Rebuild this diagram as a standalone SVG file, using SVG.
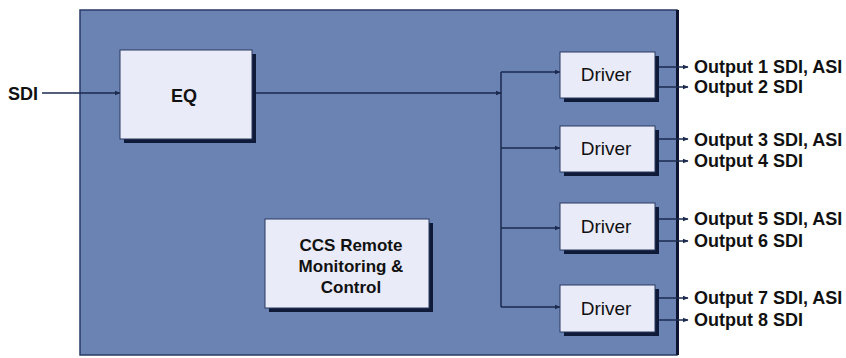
<svg xmlns="http://www.w3.org/2000/svg" width="846" height="358" viewBox="0 0 846 358">
<style>
.box{fill:#e9ebf8;stroke:#2a3a60;stroke-width:1}
.shadow{fill:#0f1a38}
.ln{fill:none;stroke:#1b2a4e;stroke-width:1.5}
.t{font-family:"Liberation Sans",Arial,sans-serif;fill:#111}
.b{font-weight:bold}
</style>
<defs>
<marker id="ah" viewBox="0 0 10 10" refX="9" refY="5" markerWidth="6" markerHeight="6" orient="auto" markerUnits="userSpaceOnUse">
<path d="M0,1 L10,5 L0,9 z" fill="#1b2a4e"/>
</marker>
</defs>
<rect width="846" height="358" fill="#ffffff"/>
<g id="panel">
<rect x="80" y="10" width="597" height="345" fill="#6a83b3" stroke="#2a3a66" stroke-width="1.5"/>
<line x1="677.5" y1="10" x2="677.5" y2="355" stroke="#0c1430" stroke-width="3"/>
</g>
<g id="connectors">
<line class="ln" x1="42" y1="93" x2="120" y2="93" marker-end="url(#ah)"/>
<line class="ln" x1="252" y1="93" x2="501" y2="93" marker-end="url(#ah)"/>
<line class="ln" x1="501" y1="72" x2="501" y2="307"/>
<line class="ln" x1="501" y1="72" x2="560" y2="72" marker-end="url(#ah)"/>
<line class="ln" x1="501" y1="148" x2="560" y2="148" marker-end="url(#ah)"/>
<line class="ln" x1="501" y1="228" x2="560" y2="228" marker-end="url(#ah)"/>
<line class="ln" x1="501" y1="307" x2="560" y2="307" marker-end="url(#ah)"/>
<line class="ln" x1="655" y1="67" x2="688" y2="67" marker-end="url(#ah)"/>
<line class="ln" x1="655" y1="87" x2="688" y2="87" marker-end="url(#ah)"/>
<line class="ln" x1="655" y1="139" x2="688" y2="139" marker-end="url(#ah)"/>
<line class="ln" x1="655" y1="161" x2="688" y2="161" marker-end="url(#ah)"/>
<line class="ln" x1="655" y1="219" x2="688" y2="219" marker-end="url(#ah)"/>
<line class="ln" x1="655" y1="241" x2="688" y2="241" marker-end="url(#ah)"/>
<line class="ln" x1="655" y1="298" x2="688" y2="298" marker-end="url(#ah)"/>
<line class="ln" x1="655" y1="320" x2="688" y2="320" marker-end="url(#ah)"/>
</g>
<g id="sdi-in">
<text class="t b" x="8" y="100" font-size="18">SDI</text>
</g>
<g id="eq">
<rect class="shadow" x="124" y="54" width="132" height="89"/>
<rect class="box" x="120" y="50" width="132" height="89"/>
<text class="t b" x="184" y="102" font-size="18" text-anchor="middle">EQ</text>
</g>
<g id="driver1">
<rect class="shadow" x="564" y="56" width="95" height="46"/>
<rect class="box" x="560" y="52" width="95" height="46"/>
<text class="t" x="606" y="81" font-size="19" text-anchor="middle">Driver</text>
</g>
<g id="driver2">
<rect class="shadow" x="564" y="130" width="95" height="46"/>
<rect class="box" x="560" y="126" width="95" height="46"/>
<text class="t" x="606" y="155" font-size="19" text-anchor="middle">Driver</text>
</g>
<g id="driver3">
<rect class="shadow" x="564" y="207" width="95" height="47"/>
<rect class="box" x="560" y="203" width="95" height="47"/>
<text class="t" x="606" y="233" font-size="19" text-anchor="middle">Driver</text>
</g>
<g id="driver4">
<rect class="shadow" x="564" y="289" width="95" height="47"/>
<rect class="box" x="560" y="285" width="95" height="47"/>
<text class="t" x="606" y="315" font-size="19" text-anchor="middle">Driver</text>
</g>
<g id="ccs">
<rect class="shadow" x="269" y="223" width="164" height="89"/>
<rect class="box" x="265" y="219" width="164" height="89"/>
<text class="t b" x="351" y="251" font-size="17" text-anchor="middle">CCS Remote</text>
<text class="t b" x="351" y="272" font-size="17" text-anchor="middle">Monitoring &amp;</text>
<text class="t b" x="351" y="293" font-size="17" text-anchor="middle">Control</text>
</g>
<g id="outputs" class="t b" font-size="18">
<text class="t b" x="694" y="73">Output 1 SDI, ASI</text>
<text class="t b" x="694" y="93">Output 2 SDI</text>
<text class="t b" x="694" y="146">Output 3 SDI, ASI</text>
<text class="t b" x="694" y="167">Output 4 SDI</text>
<text class="t b" x="694" y="225">Output 5 SDI, ASI</text>
<text class="t b" x="694" y="247">Output 6 SDI</text>
<text class="t b" x="694" y="304">Output 7 SDI, ASI</text>
<text class="t b" x="694" y="326">Output 8 SDI</text>
</g>
</svg>
